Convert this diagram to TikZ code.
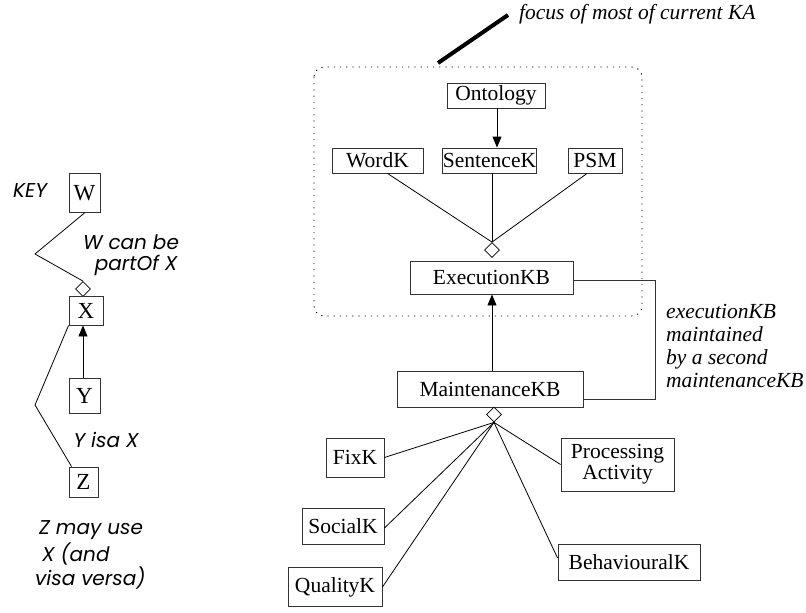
\documentclass[tikz,border=0pt]{standalone}
\usepackage{fontspec}
\setmainfont{Liberation Serif}
\newfontfamily\keyfont{Poppins}
\usetikzlibrary{arrows.meta,shapes.geometric}
\begin{document}
\begin{tikzpicture}[x=1pt,y=-1pt,
  box/.style={draw=black!80,line width=0.9pt,inner sep=0pt,font=\fontsize{21.5}{24}\selectfont,align=center},
  keybox/.style={box,font=\fontsize{23}{25}\selectfont},
  agg/.style={draw,diamond,fill=white,inner sep=0pt,minimum width=15pt,minimum height=15pt,line width=0.8pt},
  link/.style={line width=0.8pt},
  isa/.style={line width=0.9pt,-{Triangle[length=11pt,width=9pt]}},
  keytext/.style={font=\keyfont\itshape\fontsize{20}{22}\selectfont,inner sep=0pt},
  note/.style={font=\itshape\fontsize{21.5}{23}\selectfont,inner sep=0pt}]
\useasboundingbox (0,0) rectangle (806,613);

% ---------- key ----------
\node[keytext,anchor=west] (keylbl) at (13,191) {KEY};
\node[keybox,minimum width=31pt,minimum height=39pt] (W) at (84.5,193) {W};
\node[agg] (kd) at (83,289) {};
\node[keybox,minimum width=34pt,minimum height=29pt] (X) at (86,310.5) {X};
\node[keybox,minimum width=31pt,minimum height=35pt] (Y) at (84.5,395.5) {Y};
\node[keybox,minimum width=29pt,minimum height=30pt] (Z) at (83.5,482) {Z};
\coordinate (wbend) at (35,254);
\coordinate (zbend) at (35,405);
\draw[link] (W.south) -- (wbend) -- (kd.north);
\draw[isa] (Y.north -| kd) -- (X.south -| kd);
\draw[link] (X.south west) -- (zbend) -- ([xshift=3pt]Z.north west);
\node[keytext] (t1) at (131,242) {W can be};
\node[keytext] (t2) at (136,265) {partOf X};
\node[keytext] (t3) at (106,440) {Y isa X};
\node[keytext,anchor=west] (t4) at (39,530) {Z may use};
\node[keytext,anchor=west] (t5) at (42,554) {X (and};
\node[keytext,anchor=west] (t6) at (35,578) {visa versa)};

% ---------- focus region ----------
\draw[line width=0.9pt,dash pattern=on 1.2pt off 5pt,rounded corners=10pt] (314,67) rectangle (642,316);
\coordinate (fa) at (438,63);
\coordinate (fb) at (508,15);
\draw[line width=4pt] (fa) -- (fb);
\node[note,anchor=west] (focus) at (519,14) {focus of most of current KA};

\node[box,minimum width=98pt,minimum height=25pt] (onto) at (496,95.5) {Ontology};
\node[box,minimum width=91pt,minimum height=25pt] (word) at (377.5,160.5) {WordK};
\node[box,minimum width=91pt,minimum height=25pt] (sent) at (489.5,160.5) {SentenceK};
\node[box,minimum width=54pt,minimum height=25pt] (psm) at (595,160.5) {PSM};
\node[agg] (ed) at (492,250) {};
\node[box,minimum width=163pt,minimum height=33pt] (exec) at (491.5,277.5) {ExecutionKB};

\draw[isa] (onto.south -| 497,0) -- (sent.north -| 497,0);
\draw[link] ([xshift=10pt]word.south) -- (ed.north);
\draw[link] (sent.south -| ed) -- (ed.north);
\draw[link] ([xshift=-8pt]psm.south) -- (ed.north);

% ---------- maintenance ----------
\node[box,minimum width=186pt,minimum height=36pt] (maint) at (490,389) {MaintenanceKB};
\node[agg] (md) at (494,414.5) {};
\draw[isa] (maint.north -| ed) -- (exec.south -| ed);

\coordinate (loopA) at (655,280);
\coordinate (loopB) at (655,399);
\draw[line width=0.9pt,black!80] (exec.east |- loopA) -- (loopA) -- (loopB) -- (maint.east |- loopB);
\node[note,anchor=west,align=left,font=\itshape\fontsize{21.5}{22.7}\selectfont] (mnote) at (666,346)
  {executionKB\\maintained\\by a second\\maintenanceKB};

\node[box,minimum width=58pt,minimum height=39pt] (fix) at (355,457.5) {FixK};
\node[box,minimum width=82pt,minimum height=36pt] (social) at (343,526) {SocialK};
\node[box,minimum width=94pt,minimum height=39pt] (quality) at (335,587) {QualityK};
\node[box,minimum width=113pt,minimum height=53pt] (proc) at (617.5,464.5) {Processing\\[-3pt]Activity};
\node[box,minimum width=142pt,minimum height=36pt] (behav) at (629,562) {BehaviouralK};

\draw[link] (md.south) -- (fix.east);
\draw[link] (md.south) -- ([yshift=-2pt]social.east);
\draw[link] (md.south) -- (quality.east);
\draw[link] (md.south) -- (proc.west);
\draw[link] (md.south) -- ([yshift=4pt]behav.west);
\end{tikzpicture}
\end{document}
